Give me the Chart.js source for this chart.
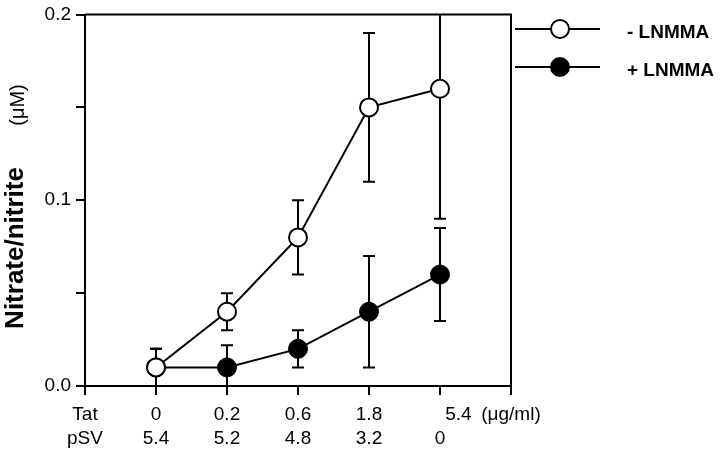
<!DOCTYPE html>
<html>
<head>
<meta charset="utf-8">
<script src="https://cdn.jsdelivr.net/npm/chart.js@4/dist/chart.umd.min.js"></script>
<style>
html,body{margin:0;padding:0;background:#fff;}
#wrap{width:720px;height:450px;}
</style>
</head>
<body>
<div id="wrap"><canvas id="c" width="720" height="450"></canvas></div>
<script>
// ---- data ----
const positions = [0, 1, 2, 3, 4];
const tatLabels = ['0', '0.2', '0.6', '1.8', '5.4'];
const psvLabels = ['5.4', '5.2', '4.8', '3.2', '0'];
const rowNames = ['Tat', 'pSV'];
const unitLabel = '(\u03BCg/ml)';
const minusLNMMA = [0.01, 0.04, 0.08, 0.15, 0.16];
const minusErr = [0.01, 0.01, 0.02, 0.04, 0.07];
const plusLNMMA = [0.01, 0.01, 0.02, 0.04, 0.06];
const plusErr = [0.01, 0.012, 0.01, 0.03, 0.025];
const seriesNames = ['- LNMMA', '+ LNMMA'];
const yTitleMain = 'Nitrate/nitrite';
const yTitleUnit = '(\u03BCM)';

const FONT = '"Liberation Sans", Arial, Helvetica, sans-serif';

const errorSets = [
  {values: minusLNMMA, errs: minusErr},
  {values: plusLNMMA, errs: plusErr}
];

const deco = {
  id: 'deco',
  beforeDatasetsDraw(chart) {
    const ctx = chart.ctx, a = chart.chartArea;
    const xs = chart.scales.x, ys = chart.scales.y;
    ctx.save();
    // frame top and right
    ctx.strokeStyle = '#000';
    ctx.lineWidth = 2;
    ctx.beginPath();
    ctx.moveTo(a.left, a.top);
    ctx.lineTo(a.right, a.top);
    ctx.lineTo(a.right, a.bottom);
    ctx.stroke();
    // error bars
    ctx.beginPath();
    ctx.rect(a.left, a.top, a.right - a.left, a.bottom - a.top);
    ctx.clip();
    ctx.lineWidth = 2;
    errorSets.forEach(s => {
      s.values.forEach((v, i) => {
        const x = xs.getPixelForValue(positions[i]);
        const yH = ys.getPixelForValue(v + s.errs[i]);
        const yL = ys.getPixelForValue(v - s.errs[i]);
        ctx.beginPath();
        ctx.moveTo(x, yH); ctx.lineTo(x, yL);
        ctx.moveTo(x - 6, yH); ctx.lineTo(x + 6, yH);
        ctx.moveTo(x - 6, yL); ctx.lineTo(x + 6, yL);
        ctx.stroke();
      });
    });
    ctx.restore();
  },
  afterDraw(chart) {
    const ctx = chart.ctx;
    ctx.save();
    // legend
    const rows = [{y: 29, fill: '#fff'}, {y: 67, fill: '#000'}];
    rows.forEach((r, i) => {
      ctx.strokeStyle = '#000';
      ctx.lineWidth = 2;
      ctx.beginPath();
      ctx.moveTo(515, r.y); ctx.lineTo(600, r.y);
      ctx.stroke();
      ctx.beginPath();
      ctx.arc(560, r.y, 9, 0, Math.PI * 2);
      ctx.fillStyle = r.fill;
      ctx.fill();
      ctx.stroke();
      ctx.fillStyle = '#000';
      ctx.font = 'bold 19px ' + FONT;
      ctx.textBaseline = 'middle';
      ctx.textAlign = 'left';
      ctx.fillText(seriesNames[i], 627, r.y + 4);
    });
    // y title
    ctx.fillStyle = '#000';
    ctx.translate(16, 248);
    ctx.rotate(-Math.PI / 2);
    ctx.font = 'bold 26px ' + FONT;
    ctx.textAlign = 'center';
    ctx.textBaseline = 'middle';
    ctx.fillText(yTitleMain, 0, 0);
    ctx.font = '20px ' + FONT;
    ctx.fillText(yTitleUnit, 143, 2);
    ctx.restore();
  }
};

const pts = arr => arr.map((v, i) => ({x: positions[i], y: v}));

new Chart(document.getElementById('c'), {
  type: 'line',
  data: {
    datasets: [
      {
        label: seriesNames[0],
        data: pts(minusLNMMA),
        borderColor: '#000',
        borderWidth: 2,
        pointRadius: 9,
        pointBorderWidth: 2,
        pointBackgroundColor: '#fff',
        pointBorderColor: '#000',
        tension: 0,
        clip: false
      },
      {
        label: seriesNames[1],
        data: pts(plusLNMMA),
        borderColor: '#000',
        borderWidth: 2,
        pointRadius: 9.5,
        pointBorderWidth: 1,
        pointBackgroundColor: '#000',
        pointBorderColor: '#000',
        tension: 0,
        clip: false
      }
    ]
  },
  options: {
    responsive: false,
    animation: false,
    events: [],
    layout: {padding: {left: 0, right: 209, top: 0, bottom: 0}},
    plugins: {legend: {display: false}, tooltip: {enabled: false}},
    scales: {
      x: {
        type: 'linear',
        min: -1,
        max: 5,
        afterFit: s => { s.height = 64; },
        ticks: {
          stepSize: 1,
          autoSkip: false,
          maxRotation: 0,
          color: '#000',
          padding: 8,
          font: {family: FONT, size: 19, lineHeight: 1.26},
          callback: v => {
            if (v === -1) return rowNames;
            if (v === 5) return [unitLabel, ''];
            const i = positions.indexOf(v);
            if (i < 0) return '';
            const t = (i === positions.length - 1) ? '       ' + tatLabels[i] : tatLabels[i];
            return [t, psvLabels[i]];
          }
        },
        grid: {display: true, drawOnChartArea: false, drawTicks: true, tickLength: 9, color: '#000', lineWidth: 2},
        border: {display: true, color: '#000', width: 2}
      },
      y: {
        min: 0,
        max: 0.2,
        afterFit: s => { s.width = 85; },
        ticks: {
          stepSize: 0.05,
          color: '#000',
          padding: 5,
          font: {family: FONT, size: 19, lineHeight: 1.0},
          callback: v => {
            const r = Math.round(v * 100);
            return (r % 10 === 0) ? (r / 100).toFixed(1) : '';
          }
        },
        grid: {display: true, drawOnChartArea: false, drawTicks: true, tickLength: 9, color: '#000', lineWidth: 2},
        border: {display: true, color: '#000', width: 2}
      }
    }
  },
  plugins: [deco]
});
</script>
</body>
</html>
